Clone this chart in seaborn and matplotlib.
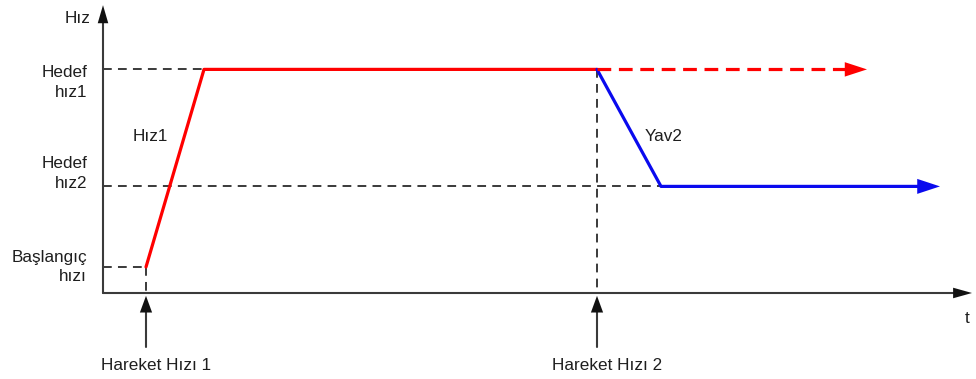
import matplotlib
matplotlib.use("Agg")
import matplotlib.pyplot as plt
import pandas as pd
import seaborn as sns

sns.set_theme(style="white")
plt.rcParams["font.family"] = ["Liberation Sans", "DejaVu Sans"]

# Speed levels (arbitrary units)
v_start = 1.0       # Başlangıç hızı
v_target2 = 4.1     # Hedef hız2
v_target1 = 8.6     # Hedef hız1

# Time points (arbitrary units)
t_move1 = 4.3       # Hareket Hızı 1
t_ramp_end = 10.1
t_move2 = 49.4      # Hareket Hızı 2
t_decel_end = 55.8
t_red_end = 76.4
t_blue_end = 83.7
t_axis_end = 86.9
v_axis_end = 11.07

level_labels = ["Hedef\nhız1", "Hedef\nhız2", "Başlangıç\nhızı"]
level_values = [v_target1, v_target2, v_start]
event_labels = ["Hareket Hızı 1", "Hareket Hızı 2"]
event_times = [t_move1, t_move2]

RED = "#ff0000"
BLUE = "#0a0aee"
INK = "#3a3a3a"
HEAD = "#111111"
TEXT = "#1e1e1e"

fig = plt.figure(figsize=(9.76, 3.79), dpi=100)
ax = fig.add_axes([0, 0, 1, 1])
ax.set_xlim(-10.3, 87.3)
ax.set_ylim(-3.308, 11.269)
ax.axis("off")

dash = (0, (4.5, 3.2))

# Reference guide lines
ax.plot([0, t_ramp_end], [v_target1, v_target1], color=INK, lw=1.4, ls=dash)
ax.plot([0, t_decel_end], [v_target2, v_target2], color=INK, lw=1.4, ls=dash)
ax.plot([0, t_move1], [v_start, v_start], color=INK, lw=1.4, ls=dash)
ax.plot([t_move1, t_move1], [v_start, 0], color=INK, lw=1.4, ls=dash)
ax.plot([t_move2, t_move2], [v_target1, 0], color=INK, lw=1.4, ls=dash)

# Velocity profiles
red_df = pd.DataFrame({"t": [t_move1, t_ramp_end, t_move2],
                       "v": [v_start, v_target1, v_target1]})
blue_df = pd.DataFrame({"t": [t_move2, t_decel_end, t_blue_end - 2.0],
                        "v": [v_target1, v_target2, v_target2]})
sns.lineplot(data=red_df, x="t", y="v", sort=False, color=RED, lw=2.3, ax=ax)
sns.lineplot(data=blue_df, x="t", y="v", sort=False, color=BLUE, lw=2.3, ax=ax)
ax.plot([t_move2, t_red_end - 2.0], [v_target1, v_target1], color=RED, lw=2.3,
        ls=(0, (4.3, 2.4)))


def head(x_tip, y_tip, x_from, y_from, color, length, width, scale=20):
    style = f"-|>,head_length={length},head_width={width}"
    ax.annotate("", xy=(x_tip, y_tip), xytext=(x_from, y_from),
                arrowprops=dict(arrowstyle=style, mutation_scale=scale,
                                color=color, lw=0, shrinkA=0, shrinkB=0))


head(t_red_end, v_target1, t_red_end - 2.5, v_target1, RED, 0.8, 0.26)
head(t_blue_end, v_target2, t_blue_end - 2.5, v_target2, BLUE, 0.82, 0.27)

# Axes with arrowheads
ax.plot([0, t_axis_end - 1.5], [0, 0], color=INK, lw=1.5)
ax.plot([0, 0], [0, v_axis_end - 0.6], color=INK, lw=1.5)
head(t_axis_end, 0, t_axis_end - 2.5, 0, HEAD, 0.68, 0.19)
head(0, v_axis_end, 0, v_axis_end - 1.0, HEAD, 0.65, 0.19)

# Event markers below the time axis
for t in event_times:
    ax.plot([t, t], [-2.08, -0.5], color=INK, lw=1.5)
    head(t, -0.11, t, -0.9, HEAD, 0.6, 0.22)

fs = 12.3
ax.text(-1.3, 10.55, "Hız", ha="right", va="center", fontsize=fs, color=TEXT)
# vertical shift of each two-line level label relative to its guide line
label_shift = [-0.5, 0.5, 0.0]
for lab, val, dy in zip(level_labels, level_values, label_shift):
    ax.text(-1.6, val + dy, lab, ha="right", va="center", fontsize=fs,
            color=TEXT, linespacing=1.4)
for lab, t in zip(event_labels, event_times):
    ax.text(t + 1.0, -2.8, lab, ha="center", va="center", fontsize=fs, color=TEXT)
ax.text(3.0, 6.0, "Hız1", ha="left", va="center", fontsize=fs, color=TEXT)
ax.text(54.2, 6.0, "Yav2", ha="left", va="center", fontsize=fs, color=TEXT)
ax.text(86.2, -0.97, "t", ha="left", va="center", fontsize=fs, color=TEXT)

fig.savefig("out.png", dpi=100)
